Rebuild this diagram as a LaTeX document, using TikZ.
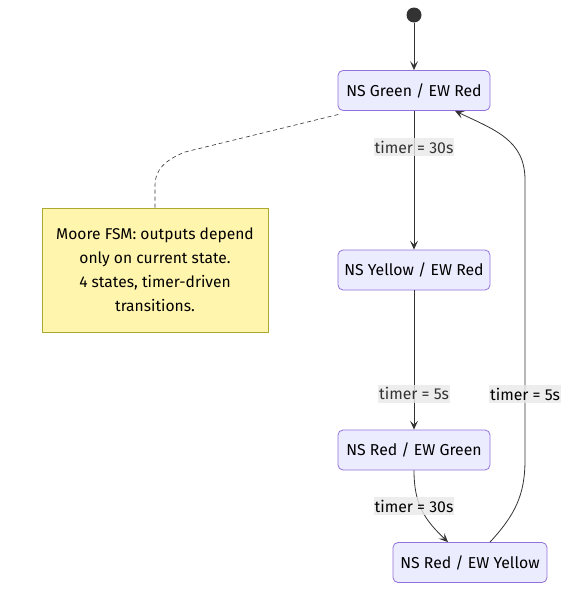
\documentclass[tikz,border=0pt]{standalone}
\usepackage{fontspec}
\setmainfont{Fira Sans}
\usetikzlibrary{positioning}
\usetikzlibrary{arrows.meta,shapes}
\definecolor{statefill}{HTML}{ECECFF}
\definecolor{stateline}{HTML}{9370DB}
\definecolor{notefill}{HTML}{FFF5AD}
\definecolor{noteline}{HTML}{AAAA33}
\definecolor{edgeline}{HTML}{333333}
\definecolor{labelfill}{HTML}{E8E8E8}
\tikzstyle{state} = [rectangle, rounded corners=5pt, minimum width=152pt, minimum height=40pt, text centered, draw=stateline, line width=0.8pt, fill=statefill, font=\fontsize{15.8}{18}\selectfont]
\tikzstyle{note} = [rectangle, minimum width=226pt, minimum height=124pt, align=center, draw=noteline, line width=0.8pt, fill=notefill, font=\fontsize{15.6}{24}\selectfont]
\tikzstyle{arrow} = [edgeline, line width=0.8pt, -{Stealth[length=9pt,width=8pt,inset=4pt]}]
\tikzstyle{elabel} = [fill=labelfill, fill opacity=0.8, text opacity=1, inner xsep=1pt, inner ysep=3pt, font=\fontsize{15.8}{18}\selectfont]

\begin{document}
\begin{tikzpicture}[x=1pt,y=-1pt]
  \useasboundingbox (0,0) rectangle (577,598);
  % states
  \fill[edgeline] (414,15) circle (7.5pt) node (start) [minimum size=15pt, inner sep=0pt] {};
  \node[state] (green) at (414,90.5) {NS Green / EW Red};
  \node[state] (yellow) at (414,270) {NS Yellow / EW Red};
  \node[state] (red) at (414,450) {NS Red / EW Green};
  \node[state, minimum width=154pt] (redyellow) at (470,562.5) {NS Red / EW Yellow};
  \node[note] (moore) at (155,270) {Moore FSM: outputs depend\\only on current state.\\4 states, timer-driven\\transitions.};
  % transitions
  \draw[arrow] (start) -- (green);
  \draw[arrow] (green) -- node[elabel, pos=0.26] {timer = 30s} (yellow);
  \draw[arrow] (yellow) -- node[elabel, pos=0.743] {timer = 5s} (red);
  \draw[arrow] (red.south) .. controls (414,505) and (425,520) .. ([xshift=-22pt]redyellow.north);
  \node[elabel] (lbl3) at (414,506) {timer = 30s};
  \draw[arrow] ([xshift=20pt]redyellow.north) .. controls (515,515) and (525,495) .. (525,460)
    -- (525,180) .. controls (525,140) and (495,130) .. ([xshift=41pt]green.south);
  \node[elabel] (lbl4) at (525,394) {timer = 5s};
  % note link
  \draw[edgeline, line width=0.6pt, dash pattern=on 4pt off 3pt] (moore.north) -- (155,185)
    .. controls (155,170) and (165,160) .. (185,152) -- ([shift={(3pt,-3pt)}]green.south west);
\end{tikzpicture}
\end{document}
